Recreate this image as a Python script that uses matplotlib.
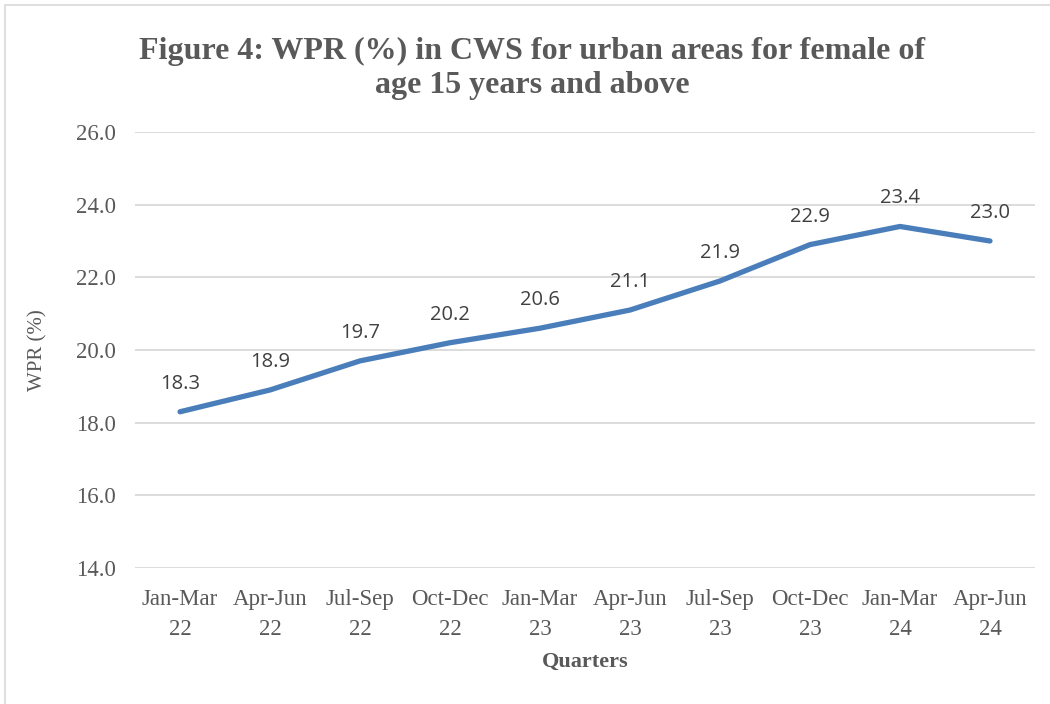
import matplotlib.pyplot as plt
from matplotlib.patches import Rectangle

quarters = ["Jan-Mar\n22", "Apr-Jun\n22", "Jul-Sep\n22", "Oct-Dec\n22", "Jan-Mar\n23",
            "Apr-Jun\n23", "Jul-Sep\n23", "Oct-Dec\n23", "Jan-Mar\n24", "Apr-Jun\n24"]
wpr = [18.3, 18.9, 19.7, 20.2, 20.6, 21.1, 21.9, 22.9, 23.4, 23.0]
y_ticks = [14.0, 16.0, 18.0, 20.0, 22.0, 24.0, 26.0]

grey = "#595959"
line_col = "#4a7ebb"

fig = plt.figure(figsize=(10.5, 7.04), dpi=100)
ax = fig.add_axes([0.1286, 0.1932, 0.8571, 0.6193])

# chart border like the Excel chart frame
fig.patches.append(Rectangle((5 / 1050, -0.1), 1.2, 1.1 - 5 / 704, transform=fig.transFigure,
                             fill=False, edgecolor="#d9d9d9", linewidth=1.2))

x = list(range(len(quarters)))
ax.plot(x, wpr, color=line_col, linewidth=3.8, solid_capstyle="round", solid_joinstyle="round")

for xi, v in zip(x, wpr):
    ax.annotate(f"{v:.1f}", (xi, v), xytext=(0, 13), textcoords="offset points",
                ha="center", va="bottom", fontsize=14.5, color="#404040", family="Open Sans")

ax.set_xlim(-0.5, len(quarters) - 0.5)
ax.set_ylim(14, 26)
ax.set_yticks(y_ticks)
ax.set_yticklabels([f"{t:.1f}" for t in y_ticks])
ax.set_xticks(x)
ax.set_xticklabels(quarters, linespacing=1.55)
ax.grid(axis="y", color="#d9d9d9", linewidth=1.3)
ax.set_axisbelow(True)
for s in ax.spines.values():
    s.set_visible(False)
ax.tick_params(length=0, labelsize=16.5, labelcolor=grey, pad=14)
ax.tick_params(axis="x", pad=15)
for lab in ax.get_xticklabels() + ax.get_yticklabels():
    lab.set_family("Liberation Serif")

ax.set_ylabel("WPR (%)", fontsize=15, color=grey, family="Liberation Serif", labelpad=20)
ax.set_xlabel("Quarters", fontsize=16, color=grey, family="Liberation Serif",
              fontweight="bold", labelpad=9)

fig.text(0.507, 0.903, "Figure 4: WPR (%) in CWS for urban areas for female of\nage 15 years and above",
         ha="center", va="center", fontsize=23, fontweight="bold", color=grey,
         family="Liberation Serif", linespacing=1.25)

fig.savefig("out.png", dpi=100)
